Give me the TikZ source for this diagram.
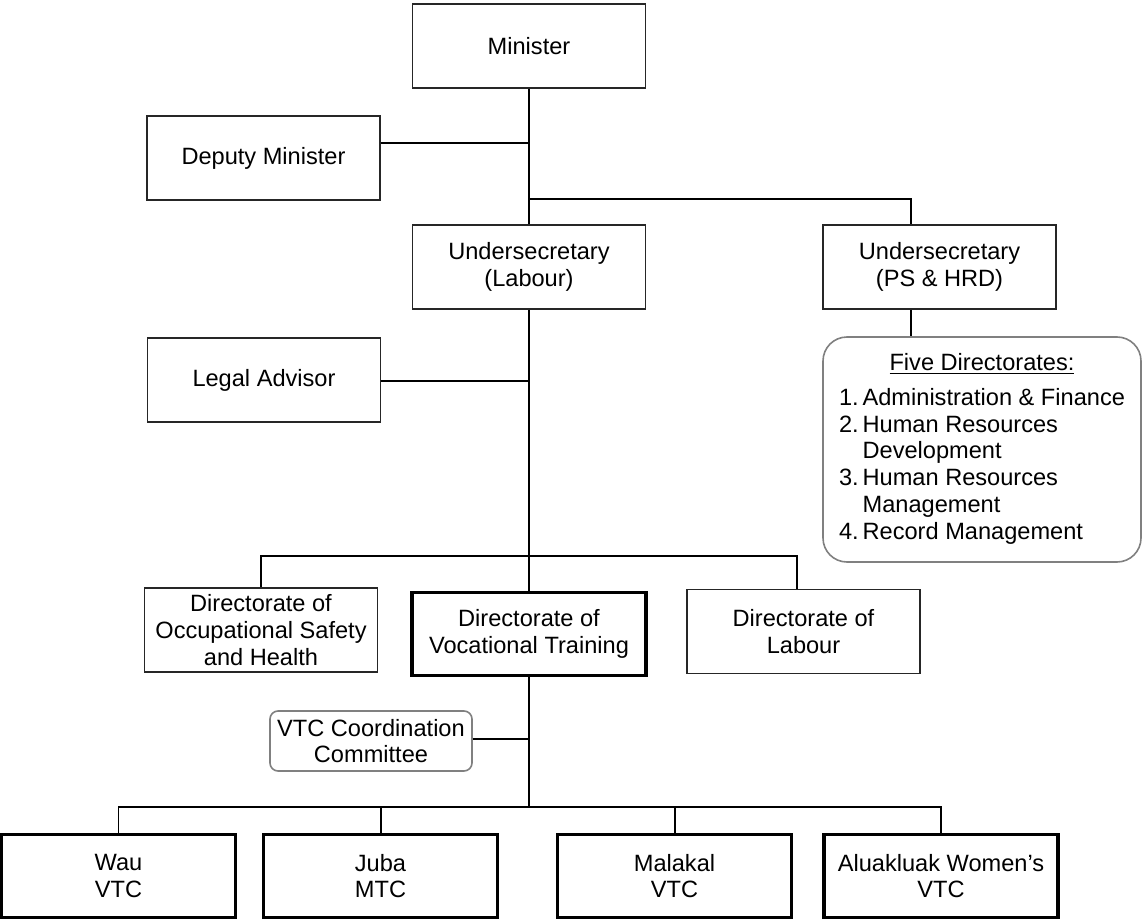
\documentclass[tikz,border=0pt]{standalone}
\usepackage{fontspec}
\setmainfont{Liberation Sans}
\usepackage{xcolor}
\usepackage{tikz}
\usetikzlibrary{calc}

\begin{document}
\begin{tikzpicture}[x=0.5pt, y=-0.5pt,
        every node/.style={align=center, inner sep=2pt,
        font=\fontsize{11.8}{13.4}\selectfont},
        office/.style={draw=black!85, line width=0.6pt, minimum width=116.5pt,
        minimum height=42pt},
        centre/.style={draw=black, line width=1.6pt, minimum width=117pt,
        minimum height=41.5pt},
        panel/.style={draw=black!50, line width=0.8pt, rounded corners=#1},
        link/.style={line width=1pt},
        branch/.style={line width=0.6pt}]
        \useasboundingbox (0,0) rectangle (1142,921);

        \node[office] (minister) at (529, 46) {Minister};
        \node[office] (deputy) at (263.5, 158) {Deputy Minister};
        \node[office] (uslab) at (529, 267) {Undersecretary\\(Labour)};
        \node[office] (ushrd) at (939.5, 267) {Undersecretary\\(PS \& HRD)};
        \node[office] (legal) at (264, 380) {Legal Advisor};
        \node[panel=12pt, minimum width=159pt, minimum height=112.5pt] (fivedir) at (982, 449.5)
            {\begin{tabular}{@{}r@{\,}l@{}}
            \multicolumn{2}{c}{\underline{Five Directorates:}}\\[4pt]
            1. & Administration \& Finance\\
            2. & Human Resources\\
               & Development\\
            3. & Human Resources\\
               & Management\\
            4. & Record Management
            \end{tabular}};
        \node[office] (osh) at (261, 630) {Directorate of\\Occupational Safety\\and Health};
        \node[centre] (dvt) at (529, 634) {Directorate of\\Vocational Training};
        \node[office] (dlab) at (803.5, 631.5) {Directorate of\\Labour};
        \node[panel=4pt, minimum width=101pt, minimum height=30pt] (vtcc) at (371, 741)
            {VTC Coordination\\Committee};
        \node[centre] (wau) at (118.5, 876) {Wau\\VTC};
        \node[centre] (juba) at (380.5, 876) {Juba\\MTC};
        \node[centre] (malakal) at (674.5, 876) {Malakal\\VTC};
        \node[centre] (aluak) at (941, 876) {Aluakluak Women’s\\VTC};

        \coordinate (jdep) at (529, 143);
        \coordinate (jhrd) at (529, 199);
        \coordinate (hrdx) at (911, 0);
        \coordinate (jlegal) at (529, 381);
        \coordinate (jdir) at (529, 556);
        \coordinate (labx) at (797, 0);
        \coordinate (jvtcc) at (529, 739);
        \coordinate (jvtc) at (529, 807);

        \draw[link] (minister.south) -- (uslab.north);
        \draw[link] (deputy.east |- jdep) -- (jdep);
        \draw[branch] (jhrd) -| (hrdx |- ushrd.north);
        \draw[branch] (hrdx |- ushrd.south) -- (hrdx |- fivedir.north);
        \draw[link] (uslab.south) -- (dvt.north);
        \draw[link] (legal.east |- jlegal) -- (jlegal);
        \draw[branch] (osh.north) |- (jdir) -| (labx |- dlab.north);
        \draw[link] (dvt.south) -- (jvtc);
        \draw[link] (vtcc.east |- jvtcc) -- (jvtcc);
        \draw[branch] (wau.north) |- (jvtc) -| (aluak.north);
        \draw[link] (juba.north) -- (juba.north |- jvtc);
        \draw[link] (malakal.north) -- (malakal.north |- jvtc);
    \end{tikzpicture}
\end{document}
